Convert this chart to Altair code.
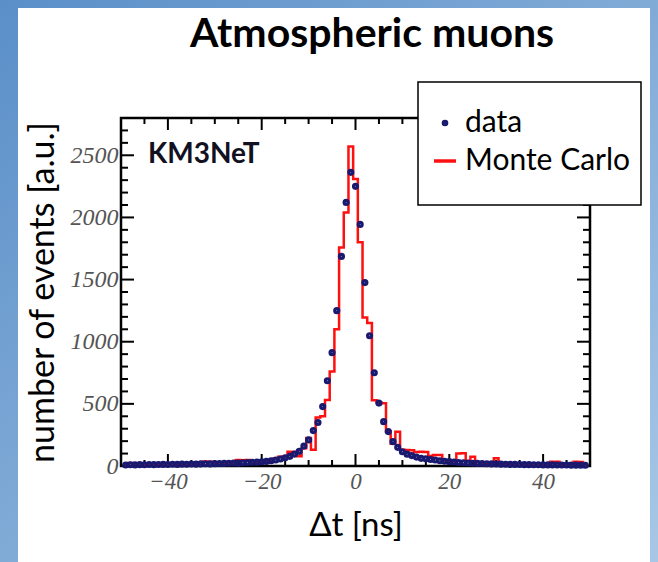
import altair as alt
import pandas as pd

# ---- data ----
t_centers = list(range(-49, 50))  # 1 ns bins, centres in ns

data_counts = (
    [8, 10, 9, 11, 10, 12, 11, 12, 13, 12]
    + [14, 13, 15, 14, 16, 15, 17, 18, 17, 19]
    + [20, 21, 22, 24, 23, 26, 28, 30, 31, 34]
    + [37, 42, 48, 56, 66, 78, 96, 118, 160, 210]
    + [285, 350, 478, 686, 912, 1250, 1686, 2121, 2363, 2250]
    + [1944, 1476, 1048, 750, 506, 357, 277, 196, 150, 115]
    + [95, 84, 72, 62, 58, 52, 48, 42, 38, 35]
    + [32, 28, 26, 24, 22, 21, 20, 18, 17, 16]
    + [15, 14, 13, 13, 12, 11, 11, 10, 10, 9]
    + [9, 9, 8, 8, 8, 7, 7, 7, 6]
)

mc_counts = (
    [12, 24, 20, 8, 9, 10, 8, 10, 9, 10]
    + [8, 12, 10, 9, 11, 14, 12, 36, 34, 14]
    + [18, 16, 20, 22, 48, 47, 48, 30, 26, 28]
    + [34, 40, 60, 74, 76, 115, 112, 78, 142, 225]
    + [130, 390, 400, 532, 760, 1100, 1758, 2040, 2570, 2310]
    + [1800, 1194, 1150, 530, 510, 505, 277, 180, 275, 130]
    + [128, 126, 112, 115, 113, 80, 89, 88, 45, 40]
    + [38, 100, 102, 40, 75, 30, 25, 22, 18, 62]
    + [15, 14, 12, 12, 10, 11, 10, 9, 10, 9]
    + [8, 35, 34, 10, 9, 8, 34, 32, 9]
)

x_tick_labels = [-40, -20, 0, 20, 40]
x_minor = [-45, -35, -30, -25, -15, -10, -5, 5, 10, 15, 25, 30, 35, 45]
y_tick_labels = [0, 500, 1000, 1500, 2000, 2500]
y_major = [500, 1000, 1500, 2000, 2500]
y_minor = [v for v in range(100, 2800, 100) if v % 500 != 0]

series_names = ["data", "Monte Carlo"]

# ---- tables ----
W, H = 469, 348
df_data = pd.DataFrame({"t": t_centers, "n": data_counts, "series": "data"})
edges = [c - 0.5 for c in t_centers] + [t_centers[-1] + 0.5]
df_mc = pd.DataFrame({"t": edges, "n": mc_counts + [mc_counts[-1]]})
one = pd.DataFrame({"a": [0]})

xs = alt.Scale(domain=[-50, 50], nice=False, zero=False)
ys = alt.Scale(domain=[0, 2800], nice=False)

FONT = "Lato"

xaxis = alt.Axis(
    values=x_tick_labels, format="d", tickSize=0, domain=False, grid=False, zindex=2,
    labelFont="Liberation Serif", labelFontStyle="italic", labelFontSize=23,
    labelColor="#555555", labelPadding=4,
    title="Δt [ns]", titleFont=FONT, titleFontSize=33, titleFontWeight="normal",
    titleColor="black", titlePadding=16)
yaxis = alt.Axis(
    values=y_tick_labels, format="d", tickSize=0, domain=False, grid=False, zindex=2,
    labelFont="Liberation Serif", labelFontStyle="italic", labelFontSize=24,
    labelColor="#555555", labelPadding=3,
    title="number of events [a.u.]", titleFont=FONT, titleFontSize=34,
    titleFontWeight="normal", titleColor="black", titlePadding=10)

grad = alt.LinearGradient(
    gradient="linear",
    stops=[alt.GradientStop(color="#5a8fc8", offset=0),
           alt.GradientStop(color="#a8c7e6", offset=1)],
    x1=0, y1=0, x2=1, y2=1,
)

bg = alt.Chart(one).mark_rect(fill=grad).encode(
    x=alt.value(-121), x2=alt.value(537), y=alt.value(-118), y2=alt.value(444))
panel = alt.Chart(one).mark_rect(fill="white").encode(
    x=alt.value(-103), x2=alt.value(529), y=alt.value(-110), y2=alt.value(444))
frame = alt.Chart(one).mark_rect(fillOpacity=0, stroke="black", strokeWidth=2.5).encode(
    x=alt.value(0), x2=alt.value(W), y=alt.value(0), y2=alt.value(H))

def xticks(vals, length):
    d = pd.DataFrame({"v": vals})
    b = alt.Chart(d).mark_rule(color="black", strokeWidth=2).encode(
        x=alt.X("v:Q", scale=xs, axis=xaxis), y=alt.value(H), y2=alt.value(H - length))
    t = alt.Chart(d).mark_rule(color="black", strokeWidth=2).encode(
        x=alt.X("v:Q", scale=xs, axis=xaxis), y=alt.value(0), y2=alt.value(length))
    return [b, t]

def yticks(vals, length):
    d = pd.DataFrame({"v": vals})
    l = alt.Chart(d).mark_rule(color="black", strokeWidth=2).encode(
        y=alt.Y("v:Q", scale=ys, axis=yaxis), x=alt.value(0), x2=alt.value(length))
    r = alt.Chart(d).mark_rule(color="black", strokeWidth=2).encode(
        y=alt.Y("v:Q", scale=ys, axis=yaxis), x=alt.value(W), x2=alt.value(W - length))
    return [l, r]

ticks = xticks(x_tick_labels, 12) + xticks(x_minor, 6) + yticks(y_major, 13) + yticks(y_minor, 7)

mc = alt.Chart(df_mc).mark_line(interpolate="step-after", color="#ff1010", strokeWidth=2.5).encode(
    x=alt.X("t:Q", scale=xs, axis=xaxis),
    y=alt.Y("n:Q", scale=ys, axis=yaxis),
)

leg = alt.Legend(
    title=None, orient="none", legendX=309, legendY=-10,
    labelFont=FONT, labelFontSize=30, labelColor="black", labelLimit=400,
    labelOffset=5, rowPadding=8, padding=0, symbolStrokeWidth=3.5,
    symbolOpacity=1,
)

points = alt.Chart(df_data).mark_point(filled=False, strokeWidth=4, opacity=1).encode(
    x=alt.X("t:Q", scale=xs, axis=xaxis),
    y=alt.Y("n:Q", scale=ys, axis=yaxis),
    color=alt.Color("series:N", scale=alt.Scale(domain=series_names, range=["#191970", "#ff1010"]), legend=leg),
    shape=alt.Shape("series:N", scale=alt.Scale(domain=series_names, range=["circle", "stroke"]), legend=leg),
    size=alt.Size("series:N", scale=alt.Scale(domain=series_names, range=[10, 484]), legend=leg),
)

legend_box = alt.Chart(one).mark_rect(fill="white", stroke="black", strokeWidth=1.5).encode(
    x=alt.value(297), x2=alt.value(520), y=alt.value(-36), y2=alt.value(87))

title = alt.Chart(one).mark_text(
    text="Atmospheric muons", font=FONT, fontSize=41, fontWeight="bold",
    color="black", align="center", baseline="alphabetic").encode(
    x=alt.value(251), y=alt.value(-71))

km3 = alt.Chart(one).mark_text(
    text="KM3NeT", font=FONT, fontSize=28, fontWeight="bold",
    color="#111122", align="left", baseline="alphabetic").encode(
    x=alt.value(27), y=alt.value(45))

chart = alt.layer(
    bg, panel, frame, *ticks, mc, points, legend_box, title, km3
).properties(
    width=W, height=H,
    padding={"left": 121, "top": 118, "right": 68, "bottom": 96},
    autosize=alt.AutoSizeParams(type="none"),
).configure_view(stroke=None)

chart.save("out.html", embed_options={"renderer": "svg", "actions": False})
